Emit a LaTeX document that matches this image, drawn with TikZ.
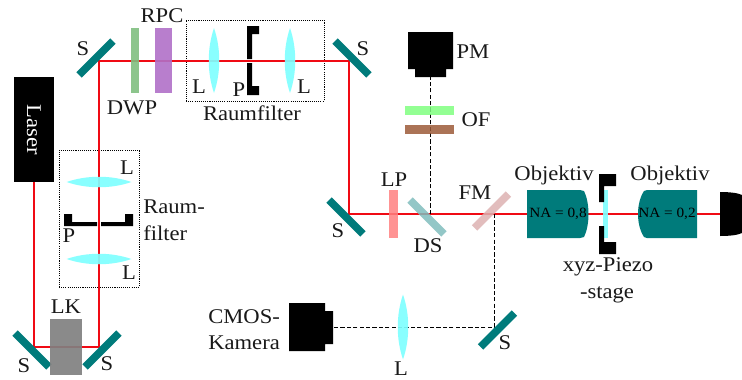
\documentclass[tikz,border=0pt]{standalone}
\usepackage{fontspec}
\setmainfont[FakeStretch=1.08]{Liberation Serif}
\definecolor{teal0}{HTML}{007B7B}
\definecolor{beam}{HTML}{F00A14}
\definecolor{cyan0}{HTML}{7FFFFF}
\tikzset{
  lbl/.style={inner sep=0pt,font=\fontsize{15.7}{18}\selectfont,text=black!90},
  na/.style={inner sep=0pt,font=\fontsize{10.6}{12}\selectfont},
  mirror/.style={fill=teal0,minimum width=36pt,minimum height=5.6pt,inner sep=0pt},
  beamline/.style={draw=beam,line width=1.35pt},
  dashline/.style={draw=black,line width=0.7pt,dash pattern=on 3.2pt off 1.6pt},
  box/.style={draw=black,line width=0.6pt,dash pattern=on 0.8pt off 0.8pt},
  lensfill/.style={fill=cyan0,fill opacity=0.92},
  blk/.style={fill=black},
  pics/vlens/.style={code={\fill[lensfill] (0,-32.5) .. controls (-7,-12) and (-7,12) .. (0,32.5) .. controls (7,12) and (7,-12) .. (0,-32.5);}},
  pics/hlens/.style={code={\fill[lensfill] (-32.5,0) .. controls (-12,-7) and (12,-7) .. (32.5,0) .. controls (12,7) and (-12,7) .. (-32.5,0);}},
}
\begin{document}
\begin{tikzpicture}[x=0.75pt,y=-0.75pt]
\useasboundingbox (0,0) rectangle (742,379);
% beam corner coordinates
\coordinate (b0) at (34,182);
\coordinate (b1) at (34,347);
\coordinate (b2) at (99,347);
\coordinate (b3) at (99,61);
\coordinate (b4) at (349,61);
\coordinate (b5) at (349,214);
\coordinate (b6) at (722,214);
\coordinate (d1) at (430,214);
\coordinate (d2) at (430,77);
\coordinate (f1) at (494,214);
\coordinate (f2) at (494,327);
\coordinate (f3) at (334,327);
% dotted boxes
\node[box,minimum width=103.5pt,minimum height=60.75pt,inner sep=0pt] (rf1) at (255,60.5) {};
\node[box,minimum width=60pt,minimum height=102.75pt,inner sep=0pt] (rf2) at (99,218.5) {};
% beams
\draw[beamline,line join=miter] (b0) -- (b1) -- (b2) -- (b3) -- (b4) -- (b5) -- (b6);
\draw[dashline] (d1) -- (d2);
\draw[dashline] (f1) -- (f2) -- (f3);
% laser
\node[blk,minimum width=30pt,minimum height=78.75pt,inner sep=0pt] (laser) at (34,129.5) {};
\node[lbl,text=white,rotate=-90] (lasertxt) at (34,130) {Laser};
% mirrors
\node[mirror,rotate=45]  (s1) at (96,58) {};
\node[mirror,rotate=-45] (s2) at (352,58) {};
\node[mirror,rotate=-45] (s3) at (346,217) {};
\node[mirror,rotate=-45] (s4) at (32,350) {};
\node[mirror,rotate=45]  (s5) at (102,350) {};
\node[mirror,rotate=45]  (s6) at (497.5,330) {};
% waveplates
\definecolor{dwpc}{HTML}{7FBF7F}
\definecolor{rpcc}{HTML}{B070C8}
\definecolor{brown0}{HTML}{9C5A38}
\node[fill=dwpc,fill opacity=0.9,minimum width=6pt,minimum height=48.75pt,inner sep=0pt] (dwp) at (135,60.5) {};
\node[fill=rpcc,fill opacity=0.9,minimum width=12.75pt,minimum height=48.75pt,inner sep=0pt] (rpc) at (163.5,60.5) {};
% lenses
\pic at (214,60.5) {vlens};
\pic at (290,60.5) {vlens};
\pic at (99,182) {hlens};
\pic at (99,259) {hlens};
\pic at (403,327) {vlens};
% pinholes
\fill[blk] (247,26) -- (259,26) -- (259,34) -- (252,34) -- (252,59) -- (247,59) -- cycle;
\fill[blk] (247,63) -- (252,63) -- (252,86) -- (259,86) -- (259,95) -- (247,95) -- cycle;
\fill[blk] (64,214) -- (72,214) -- (72,222) -- (97,222) -- (97,226) -- (64,226) -- cycle;
\fill[blk] (133,214) -- (125,214) -- (125,222) -- (101,222) -- (101,226) -- (133,226) -- cycle;
% LK
\node[fill=black!50,fill opacity=0.92,minimum width=24pt,minimum height=42pt,inner sep=0pt] (lk) at (66,347) {};
% PM
\fill[blk] (408,32) -- (453,32) -- (453,69) -- (446,69) -- (446,77) -- (415,77) -- (415,69) -- (408,69) -- cycle;
% OF
\fill[green!50!white,fill opacity=0.85] (405,106) rectangle (454,115);
\fill[brown0,fill opacity=0.85] (405,125) rectangle (454,134);
% LP, DS, FM
\fill[red!50!white,fill opacity=0.85] (389,190) rectangle (398,238);
\node[mirror,rotate=-45,fill=teal0!50!white,fill opacity=0.85] (ds) at (427,217) {};
\node[mirror,rotate=45,fill=red!55!black!30!white,fill opacity=0.85] (fm) at (491.5,211) {};
% camera
\fill[blk] (289,303) -- (325,303) -- (325,311) -- (333,311) -- (333,344) -- (325,344) -- (325,351) -- (289,351) -- cycle;
% objectives
\fill[teal0] (527,190) -- (580,190) -- (584,191) .. controls (590,203) and (590,225) .. (584,237) -- (580,238) -- (527,238) -- cycle;
\fill[teal0] (697,190) -- (647,190) -- (644,191) .. controls (636,203) and (636,225) .. (644,237) -- (647,238) -- (697,238) -- cycle;
\node[na] (na1) at (558,214) {NA = 0,8};
\node[na] (na2) at (667,214) {NA = 0,2};
% stage
\fill[cyan0,fill opacity=0.92] (603,190) rectangle (608,238);
\fill[blk] (599,174) -- (616,174) -- (616,186) -- (604,186) -- (604,202) -- (599,202) -- cycle;
\fill[blk] (599,226) -- (604,226) -- (604,242) -- (616,242) -- (616,254) -- (599,254) -- cycle;
% detector
\fill[blk] (720,192) .. controls (730,192) and (738,193) .. (742,195) -- (742,233) .. controls (738,235) and (730,236) .. (720,236) -- cycle;
% labels
\node[lbl] (t1) at (83,49) {S};
\node[lbl] (t2) at (132,108) {DWP};
\node[lbl] (t3) at (162,16) {RPC};
\node[lbl] (t4) at (199,87) {L};
\node[lbl] (t5) at (239,90) {P};
\node[lbl] (t6) at (304,87) {L};
\node[lbl] (t7) at (252,113) {Raumfilter};
\node[lbl] (t8) at (363,49) {S};
\node[lbl] (t9) at (127,168) {L};
\node[lbl,anchor=west] (t10) at (143,207) {Raum-};
\node[lbl,anchor=west] (t11) at (143,233) {filter};
\node[lbl] (t12) at (69,236) {P};
\node[lbl] (t13) at (129,273) {L};
\node[lbl] (t14) at (66,307) {LK};
\node[lbl] (t15) at (24,366) {S};
\node[lbl] (t16) at (107,364) {S};
\node[lbl] (t17) at (338,231) {S};
\node[lbl,anchor=west] (t18) at (208,317) {CMOS-};
\node[lbl,anchor=west] (t19) at (208,343) {Kamera};
\node[lbl] (t20) at (505,343) {S};
\node[lbl] (t21) at (401,369) {L};
\node[lbl] (t22) at (608,267) {xyz-Piezo};
\node[lbl] (t23) at (607,295) {-stage};
\node[lbl] (t24) at (394,180) {LP};
\node[lbl] (t25) at (428,246) {DS};
\node[lbl] (t26) at (475,193) {FM};
\node[lbl] (t27) at (554,175) {Objektiv};
\node[lbl] (t28) at (670,175) {Objektiv};
\node[lbl] (t29) at (476,120) {OF};
\node[lbl] (t30) at (473,52) {PM};
\end{tikzpicture}
\end{document}
